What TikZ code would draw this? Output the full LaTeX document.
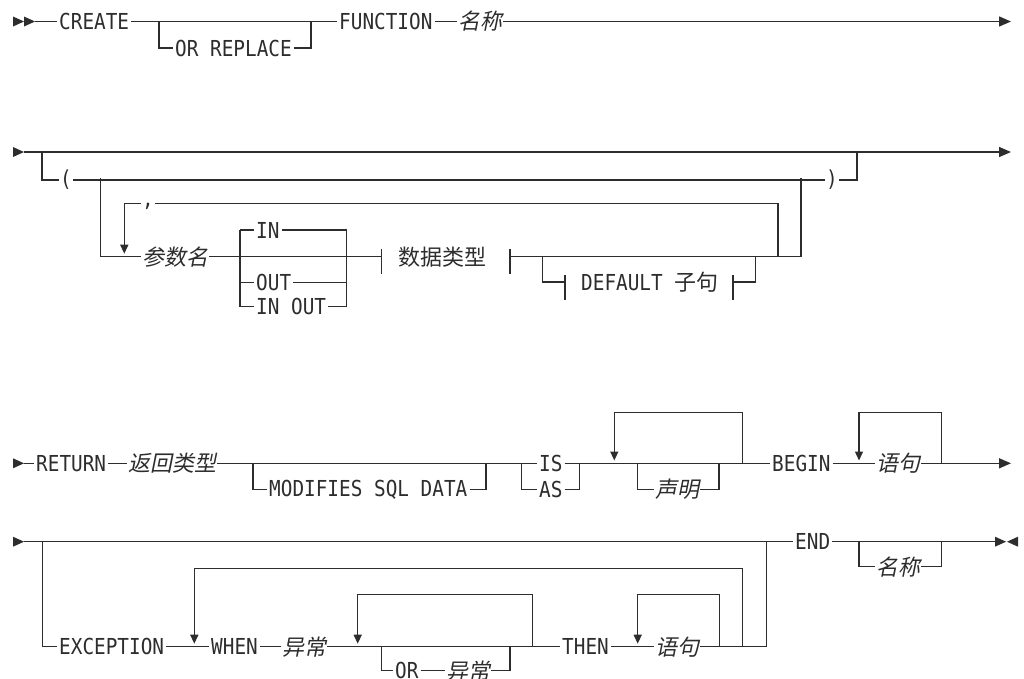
\documentclass[tikz,border=0pt]{standalone}
\usepackage{fontspec}
\usetikzlibrary{arrows.meta,calc}
\newfontfamily\kwf[FakeStretch=0.88]{DejaVu Sans Mono}
\newfontfamily\cjkup{Noto Sans CJK SC}
\newfontfamily\cjkit[FakeSlant=0.2]{Noto Sans CJK SC}
\definecolor{ink}{RGB}{45,45,45}
\begin{document}
\begin{tikzpicture}[x=1pt,y=-1pt,
  rail/.style={draw=ink,line width=1.4pt},
  kw/.style={anchor=west,inner xsep=2pt,inner ysep=0pt,text=ink,font=\kwf\fontsize{22}{22}\selectfont},
  var/.style={anchor=west,inner xsep=1pt,inner ysep=0pt,text=ink,font=\cjkit\fontsize{22}{22}\selectfont},
  frag/.style={anchor=west,inner xsep=1pt,inner ysep=0pt,text=ink,font=\cjkup\fontsize{22}{22}\selectfont},
  punct/.style={anchor=center,inner xsep=1pt,inner ysep=0pt,text=ink,font=\kwf\fontsize{22}{22}\selectfont},
  looparrow/.style={-{Triangle[length=9pt,width=8pt]}},
  endarrow/.style={-{Triangle[length=12pt,width=10pt]}},
  startmark/.style={fill=ink}
]
\useasboundingbox (0,0) rectangle (1024,678);

% ================= Row 1 =================
\fill[startmark] (13,16.5) -- (24,21.5) -- (13,26.5) -- cycle;
\fill[startmark] (24,16.5) -- (35,21.5) -- (24,26.5) -- cycle;
\coordinate (s1) at (35,21.5);
\coordinate (j1a) at (159,21.5);
\coordinate (j1b) at (311,21.5);
\coordinate (e1) at (1011,21.5);
\node[kw] (create) at (57,21.5) {CREATE};
\node[kw] (orrep) at (173,48) {OR REPLACE};
\node[kw] (func) at (337,21.5) {FUNCTION};
\node[var] (name1) at (457,21.5) {名称};
\draw[rail] (s1) -- (create.west);
\draw[rail] (create.east) -- (func.west);
\draw[rail] (j1a) |- (orrep.west);
\draw[rail] (orrep.east) -| (j1b);
\draw[rail] (func.east) -- (name1.west);
\draw[rail,endarrow] (name1.east) -- (e1);

% ================= Row 2 =================
\fill[startmark] (13,147) -- (24,152) -- (13,157) -- cycle;
\coordinate (s2) at (24,152);
\coordinate (e2) at (1011,152);
\coordinate (j2a) at (42,152);
\coordinate (j2z) at (857,152);
\coordinate (j2b) at (100.7,178.3);
\coordinate (j2f) at (801,178.3);
\coordinate (top2L) at (124.3,203.3);
\coordinate (top2R) at (778,203.3);
\coordinate (lp2) at (124.3,253.7);
\coordinate (j2d) at (778,256.7);
\coordinate (j2e) at (801,256.7);
\node[punct] (lparen) at (66,180) {(};
\node[punct] (rparen) at (832,180) {)};
\node[punct] (comma) at (148,206) {,};
\node[var] (pname) at (141,256.7) {参数名};
\draw[rail,endarrow] (s2) -- (e2);
\draw[rail] (j2a) |- (lparen.west);
\draw[rail] (lparen.east) -- (rparen.west);
\draw[rail] (rparen.east) -| (j2z);
\draw[rail] (j2b) |- (pname.west);
\draw[rail,looparrow] (comma.west |- top2L) -| (lp2);
\draw[rail] (comma.east |- top2R) -- (top2R) -- (j2d);
\draw[rail] (j2e) -- (j2f);
% IN / OUT / IN OUT
\coordinate (aL) at (240,230);
\coordinate (aR) at (346.7,230);
\coordinate (bL) at (240,306.7);
\coordinate (bR) at (346.7,306.7);
\node[kw] (in1) at (254,230) {IN};
\node[kw] (out1) at (254,282.3) {OUT};
\node[kw] (inout) at (254,306.7) {IN OUT};
\draw[rail] (aL) -- (in1.west);
\draw[rail] (in1.east) -- (aR) -- (bR) -- (inout.east);
\draw[rail] (inout.west) -- (bL) -- (aL);
\draw[rail] (bL |- out1.west) -- (out1.west);
\draw[rail] (out1.east) -- (bR |- out1.east);
% data type fragment
\coordinate (barL) at (381.7,256.7);
\coordinate (barR) at (510,256.7);
\node[frag] (dtype) at (397,256.7) {数据类型};
\draw[rail] (pname.east) -- (barL);
\draw[rail] ($(barL)+(0,-7.7)$) -- ($(barL)+(0,17.6)$);
\draw[rail] ($(barR)+(0,-7.7)$) -- ($(barR)+(0,17.6)$);
\draw[rail] (barR) -- (j2e);
% DEFAULT clause
\coordinate (jd1) at (542.3,256.7);
\coordinate (jd2) at (755.7,256.7);
\coordinate (dbarL) at (565,282);
\coordinate (dbarR) at (733,282);
\node[kw] (deflt) at (579,282) {DEFAULT {\cjkup\fontsize{22}{22}\selectfont 子句}};
\draw[rail] (jd1) |- (dbarL);
\draw[rail] (dbarR) -| (jd2);
\draw[rail] ($(dbarL)+(0,-7)$) -- ($(dbarL)+(0,18)$);
\draw[rail] ($(dbarR)+(0,-7)$) -- ($(dbarR)+(0,18)$);

% ================= Row 3 =================
\fill[startmark] (13,458.3) -- (24,463.3) -- (13,468.3) -- cycle;
\coordinate (s3) at (24,463.3);
\coordinate (e3) at (1011,463.3);
\coordinate (j3a) at (253,463.3);
\coordinate (j3b) at (486,463.3);
\coordinate (j3c) at (521.7,463.3);
\coordinate (j3d) at (579.3,463.3);
\coordinate (j3e) at (637.7,463.3);
\coordinate (j3g) at (719,463.3);
\coordinate (j3h) at (742.7,463.3);
\coordinate (t3a) at (614.3,412.3);
\coordinate (lp3a) at (614.3,460.5);
\coordinate (j3k) at (941.7,463.3);
\coordinate (t3b) at (859,412.3);
\coordinate (lp3b) at (859,460.5);
\node[kw] (ret) at (34,463.3) {RETURN};
\node[var] (rtype) at (127,463.3) {返回类型};
\node[kw] (modsql) at (267,489.3) {MODIFIES SQL DATA};
\node[kw] (is) at (537,463.3) {IS};
\node[kw] (as) at (537,489.3) {AS};
\node[var] (decl) at (654,489.3) {声明};
\node[kw] (begin) at (770,463.3) {BEGIN};
\node[var] (stmt1) at (875,463.3) {语句};
\draw[rail] (s3) -- (ret.west);
\draw[rail] (ret.east) -- (rtype.west);
\draw[rail] (rtype.east) -- (is.west);
\draw[rail] (j3a) |- (modsql.west);
\draw[rail] (modsql.east) -| (j3b);
\draw[rail] (j3c) |- (as.west);
\draw[rail] (as.east) -| (j3d);
\draw[rail] (is.east) -- (begin.west);
\draw[rail] (j3e) |- (decl.west);
\draw[rail] (decl.east) -| (j3g);
\draw[rail,looparrow] (j3h) |- (t3a) -- (lp3a);
\draw[rail] (begin.east) -- (stmt1.west);
\draw[rail,endarrow] (stmt1.east) -- (e3);
\draw[rail,looparrow] (j3k) |- (t3b) -- (lp3b);

% ================= Row 4 =================
\fill[startmark] (13,536.7) -- (24,541.7) -- (13,546.7) -- cycle;
\coordinate (s4) at (24,541.7);
\coordinate (j4a) at (42.7,541.7);
\coordinate (j4z) at (766.7,541.7);
\coordinate (j4c) at (381.7,646.7);
\coordinate (j4d) at (510,646.7);
\coordinate (j4e) at (532.7,646.7);
\coordinate (t4a) at (357.7,594.3);
\coordinate (lp4a) at (357.7,643.7);
\coordinate (j4f) at (719.3,646.7);
\coordinate (t4b) at (637.7,594.3);
\coordinate (lp4b) at (637.7,643.7);
\coordinate (j4g) at (742.7,646.7);
\coordinate (t4c) at (194.3,568.3);
\coordinate (lp4c) at (194.3,643.7);
\coordinate (jn1) at (859,541.7);
\coordinate (jn2) at (941.7,541.7);
\coordinate (em) at (995,541.7);
\node[kw] (exc) at (57,646.7) {EXCEPTION};
\node[kw] (when) at (209,646.7) {WHEN};
\node[var] (exc1) at (281,646.7) {异常};
\node[kw] (orkw) at (393,670.7) {OR};
\node[var] (exc2) at (445,670.7) {异常};
\node[kw] (then) at (560,646.7) {THEN};
\node[var] (stmt2) at (654,646.7) {语句};
\node[kw] (endk) at (793,541.7) {END};
\node[var] (name2) at (875,566.7) {名称};
\draw[rail] (s4) -- (endk.west);
\draw[rail] (j4a) |- (exc.west);
\draw[rail] (exc.east) -- (when.west);
\draw[rail] (when.east) -- (exc1.west);
\draw[rail] (exc1.east) -- (then.west);
\draw[rail] (j4c) |- (orkw.west);
\draw[rail] (orkw.east) -- (exc2.west);
\draw[rail] (exc2.east) -| (j4d);
\draw[rail,looparrow] (j4e) |- (t4a) -- (lp4a);
\draw[rail] (then.east) -- (stmt2.west);
\draw[rail] (stmt2.east) -| (j4z);
\draw[rail,looparrow] (j4f) |- (t4b) -- (lp4b);
\draw[rail,looparrow] (j4g) |- (t4c) -- (lp4c);
\draw[rail] (endk.east) -- (em);
\draw[rail] (jn1) |- (name2.west);
\draw[rail] (name2.east) -| (jn2);
\fill[startmark] (995,536.7) -- (1006,541.7) -- (995,546.7) -- cycle;
\fill[startmark] (1018,536.7) -- (1007,541.7) -- (1018,546.7) -- cycle;
\end{tikzpicture}
\end{document}
